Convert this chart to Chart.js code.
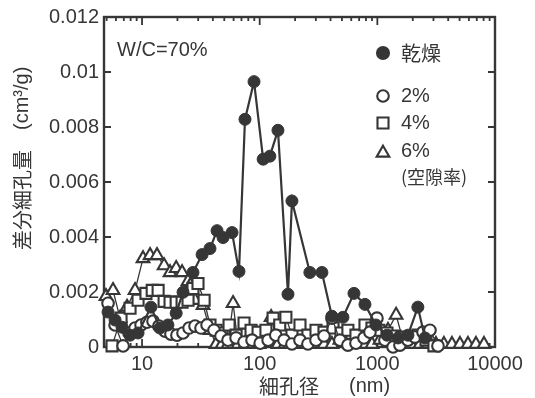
<!DOCTYPE html>
<html><head><meta charset="utf-8">
<script src="https://cdn.jsdelivr.net/npm/chart.js@4/dist/chart.umd.min.js"></script>
<style>html,body{margin:0;padding:0;background:#fff;}canvas{display:block;}</style>
</head><body>
<canvas id="c" width="535" height="398"></canvas>
<script>
// ---- data (pore diameter in nm, differential pore volume in cm3/g) ----
const dryX = [5.14, 5.90, 6.76, 7.91, 9.25, 11.9, 14.2, 16.6, 19.5, 22.3, 27.1, 32.4, 37.8, 43.4, 48.8, 58.2, 66.7, 75.0, 89.5, 107, 122, 143, 174, 188, 267, 338, 411, 510, 633, 785, 973, 1210, 1500, 1820, 2210, 2540];
const dryY = [0.00127, 0.00098, 0.00072, 0.00043, 0.00051, 0.00145, 0.00069, 0.0008, 0.00123, 0.00199, 0.00271, 0.00336, 0.00358, 0.00423, 0.00398, 0.00416, 0.00275, 0.00828, 0.00965, 0.00683, 0.00694, 0.00788, 0.00192, 0.00531, 0.00271, 0.00271, 0.00112, 0.00108, 0.00195, 0.00155, 0.0008, 0.00043, 0.00033, 0.00043, 0.00145, 0.00033];

const p2X = [5.14, 5.90, 6.90, 7.75, 8.72, 9.81, 11.0, 12.4, 13.9, 15.7, 17.6, 19.8, 22.3, 25.1, 28.2, 31.7, 35.7, 40.9, 46.9, 53.8, 63.0, 73.6, 86.1, 101, 118, 137, 161, 188, 220, 257, 301, 352, 411, 481, 562, 658, 770, 865, 992, 1160, 1360, 1556, 1820, 2085, 2444, 2800, 3275];
const p2Y = [0.00159, 0.0008, 0.00004, 0.00051, 0.00069, 0.0008, 0.0009, 0.00094, 0.00076, 0.00058, 0.00047, 0.00043, 0.00051, 0.00069, 0.00076, 0.00069, 0.0008, 0.00061, 0.0004, 0.00025, 0.00033, 0.00018, 0.00025, 0.00014, 0.00025, 0.00043, 0.00025, 0.00011, 0.00025, 0.00011, 0.00025, 0.0004, 0.00105, 0.00025, 0.00007, 0.00014, 0.00033, 0.00054, 0.00105, 0.00025, 0.0, 0.00007, 0.00025, 0.00036, 0.00054, 0.00061, 0.00004];

const p4X = [5.56, 6.63, 7.91, 9.25, 10.8, 12.2, 13.7, 15.4, 17.3, 19.5, 21.9, 24.6, 27.1, 29.9, 33.7, 37.8, 42.6, 47.9, 54.9, 63.0, 73.6, 84.4, 96.9, 113, 130, 148, 167, 188, 220, 257, 301, 352, 420, 491, 562, 658, 785, 900, 1030, 1208, 1413, 1620, 1896, 2214, 2593, 3027];
const p4Y = [0.00004, 0.00105, 0.00141, 0.0017, 0.00195, 0.00206, 0.00206, 0.00166, 0.00163, 0.00163, 0.00163, 0.0017, 0.00213, 0.00231, 0.0017, 0.0008, 0.00061, 0.00051, 0.0008, 0.00043, 0.00087, 0.00061, 0.00054, 0.00061, 0.00105, 0.0008, 0.00108, 0.00043, 0.0008, 0.00043, 0.00061, 0.00054, 0.00069, 0.00051, 0.00061, 0.00043, 0.0008, 0.00069, 0.00061, 0.00051, 0.0004, 0.00036, 0.00036, 0.00043, 0.00025, 0.00004];

const p6X = [4.94, 5.67, 6.50, 7.46, 8.72, 10.2, 11.7, 13.4, 15.4, 17.3, 19.5, 21.9, 24.6, 28.2, 33.0, 37.8, 42.6, 47.9, 53.8, 59.4, 65.5, 75.0, 86.1, 98.8, 113, 125, 143, 164, 192, 220, 257, 301, 352, 411, 481, 562, 658, 770, 900, 1052, 1232, 1443, 1652, 1935, 2303, 2690, 3148, 3680, 4305, 5036, 5890, 6890, 8060];
const p6Y = [0.00184, 0.00206, 0.00105, 0.00145, 0.00206, 0.00322, 0.00333, 0.00333, 0.00296, 0.00271, 0.00286, 0.00271, 0.00239, 0.0017, 0.00152, 0.00061, 0.0001, 0.0001, 0.0001, 0.00159, 0.0001, 0.0001, 0.0001, 0.0001, 0.00025, 0.00108, 0.0001, 0.0001, 0.0001, 0.0001, 0.00018, 0.0001, 0.0001, 0.0001, 0.00025, 0.00043, 0.0001, 0.0001, 0.0001, 0.00025, 0.00061, 0.00116, 0.00025, 0.0001, 0.0001, 0.0001, 0.0001, 0.0001, 0.0001, 0.0001, 0.0001, 0.0001, 0.0001];

const seriesNames = ['乾燥', '2%', '4%', '6%'];
const legendNote = '(空隙率)';
const annotationText = 'W/C=70%';
const xTickValues = [10, 100, 1000, 10000];
const xTickLabels = ['10', '100', '1000', '10000'];
const yTickValues = [0, 0.002, 0.004, 0.006, 0.008, 0.01, 0.012];
const yTickLabels = ['0', '0.002', '0.004', '0.006', '0.008', '0.01', '0.012'];
const xTitleMain = '細孔径', xTitleUnit = '(nm)';
const yTitleMain = '差分細孔量', yTitleUnit = '(cm³/g)';

// ---- styling ----
const INK = '#363636';
const LATIN = "'Liberation Sans', Arial, sans-serif";
const CJK = "'Noto Sans CJK JP', 'Liberation Sans', sans-serif";
const pts = (xs, ys) => xs.map((x, i) => ({x: x, y: ys[i]}));

const datasets = [
  {label: seriesNames[0], data: pts(dryX, dryY), showLine: true, borderColor: INK, borderWidth: 2.2,
   pointStyle: 'circle', pointRadius: 6, pointBackgroundColor: INK, pointBorderColor: INK, pointBorderWidth: 1, clip: false},
  {label: seriesNames[1], data: pts(p2X, p2Y), showLine: true, borderColor: INK, borderWidth: 1.3,
   pointStyle: 'circle', pointRadius: 5.8, pointBackgroundColor: '#fff', pointBorderColor: INK, pointBorderWidth: 2.1, clip: false},
  {label: seriesNames[2], data: pts(p4X, p4Y), showLine: true, borderColor: INK, borderWidth: 1.3,
   pointStyle: 'rect', pointRadius: 7.8, pointBackgroundColor: '#fff', pointBorderColor: INK, pointBorderWidth: 2.1, clip: false},
  {label: seriesNames[3], data: pts(p6X, p6Y), showLine: true, borderColor: INK, borderWidth: 1.3,
   pointStyle: 'triangle', pointRadius: 7.3, pointBackgroundColor: '#fff', pointBorderColor: INK, pointBorderWidth: 2.1, clip: false}
];

function drawMarker(ctx, style, x, y, r, filled) {
  ctx.beginPath();
  if (style === 'circle') {
    ctx.arc(x, y, r, 0, Math.PI * 2);
  } else if (style === 'rect') {
    const s = r * Math.SQRT1_2;
    ctx.rect(x - s, y - s, 2 * s, 2 * s);
  } else {
    for (let k = 0; k < 3; k++) {
      const a = k * 2 * Math.PI / 3;
      const px = x + Math.sin(a) * r, py = y - Math.cos(a) * r;
      if (k === 0) ctx.moveTo(px, py); else ctx.lineTo(px, py);
    }
    ctx.closePath();
  }
  ctx.fillStyle = filled ? INK : '#fff';
  ctx.fill();
  ctx.lineWidth = 2.1;
  ctx.strokeStyle = INK;
  ctx.stroke();
}

const framePlugin = {
  id: 'frame',
  beforeDatasetsDraw(chart) {
    const {ctx, chartArea: a, scales: {x, y}} = chart;
    ctx.save();
    ctx.strokeStyle = INK;
    ctx.lineWidth = 2.4;
    ctx.strokeRect(a.left, a.top, a.right - a.left, a.bottom - a.top);
    ctx.lineWidth = 1.8;
    ctx.beginPath();
    yTickValues.forEach(v => {
      const py = y.getPixelForValue(v);
      ctx.moveTo(a.left, py); ctx.lineTo(a.left + 7, py);
      ctx.moveTo(a.right, py); ctx.lineTo(a.right - 7, py);
    });
    [1, 10, 100, 1000].forEach(d => {
      for (let m = 1; m <= 9; m++) {
        const v = m * d;
        if (v < x.min || v > x.max) continue;
        const px = x.getPixelForValue(v);
        const len = m === 1 ? 8 : 4;
        ctx.moveTo(px, a.bottom); ctx.lineTo(px, a.bottom - len);
        ctx.moveTo(px, a.top); ctx.lineTo(px, a.top + len);
      }
    });
    ctx.stroke();
    ctx.restore();
  },
  afterDraw(chart) {
    const {ctx} = chart;
    ctx.save();
    ctx.fillStyle = INK;
    ctx.textBaseline = 'middle';
    // annotation
    ctx.font = '20px ' + LATIN;
    ctx.textAlign = 'left';
    ctx.fillText(annotationText, 117, 50);
    // legend
    const lx = 383, tx = 401;
    drawMarker(ctx, 'circle', lx, 53, 6, true);
    drawMarker(ctx, 'circle', lx, 96, 5.8, false);
    drawMarker(ctx, 'rect', lx, 123, 7.8, false);
    drawMarker(ctx, 'triangle', lx, 153, 7.3, false);
    ctx.fillStyle = INK;
    ctx.font = '20px ' + CJK;
    ctx.fillText(seriesNames[0], tx, 53);
    ctx.font = '20px ' + LATIN;
    ctx.fillText(seriesNames[1], tx, 96);
    ctx.fillText(seriesNames[2], tx, 123);
    ctx.fillText(seriesNames[3], tx, 151);
    ctx.font = '18px ' + CJK;
    ctx.fillText(legendNote, tx, 177);
    // x title
    ctx.font = '20px ' + CJK;
    ctx.fillText(xTitleMain, 259, 386);
    ctx.font = '20px ' + LATIN;
    ctx.fillText(xTitleUnit, 349, 386);
    // y title (rotated, reading bottom to top)
    ctx.translate(22, 0);
    ctx.rotate(-Math.PI / 2);
    ctx.font = '20px ' + CJK;
    ctx.fillText(yTitleMain, -250, 0);
    ctx.font = '20px ' + LATIN;
    ctx.fillText(yTitleUnit, -130, 0);
    ctx.restore();
  }
};

new Chart(document.getElementById('c'), {
  type: 'scatter',
  data: {datasets: datasets},
  plugins: [framePlugin],
  options: {
    responsive: false,
    animation: false,
    devicePixelRatio: 1,
    layout: {padding: {top: 15, right: 40, left: 0, bottom: 0}},
    plugins: {legend: {display: false}, tooltip: {enabled: false}},
    scales: {
      x: {
        type: 'logarithmic', min: 4.75, max: 10000,
        afterBuildTicks: s => { s.ticks = xTickValues.map(v => ({value: v})); },
        afterFit: s => { s.height = 51; },
        grid: {display: false, drawTicks: false},
        border: {display: false},
        ticks: {autoSkip: false, maxRotation: 0, padding: 5, color: INK,
                font: {family: LATIN, size: 20},
                callback: (v, i) => xTickLabels[i]}
      },
      y: {
        type: 'linear', min: 0, max: 0.012,
        afterBuildTicks: s => { s.ticks = yTickValues.map(v => ({value: v})); },
        afterFit: s => { s.width = 104; },
        grid: {display: false, drawTicks: false},
        border: {display: false},
        ticks: {autoSkip: false, padding: 5, color: INK,
                font: {family: LATIN, size: 20},
                callback: (v, i) => yTickLabels[i]}
      }
    }
  }
});
</script>
</body></html>
